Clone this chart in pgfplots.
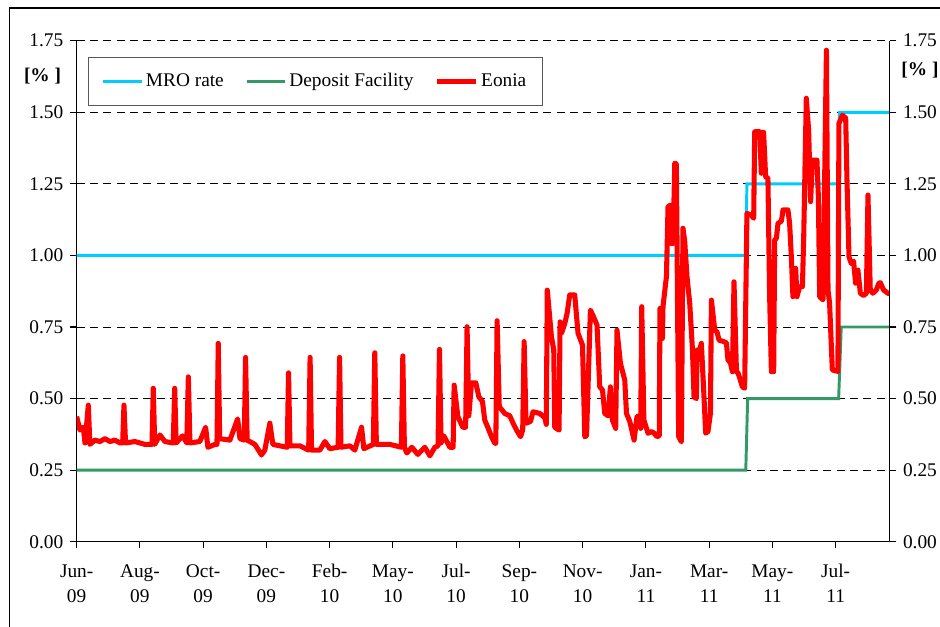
\documentclass[border=0pt]{standalone}
\usepackage{pgfplots}
\pgfplotsset{compat=1.18}
\usepackage{pgfplotstable}
\usepackage{fontspec}
\setmainfont{Liberation Serif}

\definecolor{mrocol}{RGB}{0,204,255}
\definecolor{depcol}{RGB}{51,153,102}
\definecolor{eoncol}{RGB}{255,0,0}

% Eonia, x = trading day since start of June 2009
\pgfplotstableread{
d r
0 0.437
2.3 0.39
4.6 0.40
5.8 0.345
8.1 0.477
9.2 0.34
12.7 0.355
16.2 0.35
19.7 0.36
23.2 0.35
26.6 0.355
30.1 0.345
32.0 0.345
32.9 0.477
34.0 0.345
40.5 0.35
47.5 0.34
52.4 0.34
53.3 0.536
54.3 0.34
57.9 0.373
61.4 0.35
67.2 0.345
68.2 0.536
69.2 0.345
73.7 0.37
76.6 0.345
77.7 0.576
78.8 0.345
85.7 0.35
89.7 0.40
91.3 0.33
96.2 0.34
97.6 0.34
98.5 0.693
99.5 0.36
106.6 0.355
112.0 0.429
113.6 0.36
116.6 0.355
117.5 0.644
118.6 0.355
124.0 0.34
128.6 0.303
130.9 0.32
134.4 0.414
136.5 0.34
141.4 0.335
146.5 0.33
147.4 0.59
148.4 0.335
155.3 0.335
161.4 0.32
162.4 0.644
163.4 0.32
169.2 0.32
172.7 0.35
176.1 0.325
181.9 0.33
182.9 0.644
183.9 0.33
190.1 0.335
193.5 0.32
198.2 0.40
199.8 0.325
206.4 0.34
207.4 0.66
208.5 0.34
217.9 0.34
225.9 0.33
226.9 0.649
228.0 0.33
229.7 0.31
233.2 0.33
237.3 0.305
242.2 0.33
245.7 0.30
249.2 0.33
251.4 0.335
252.4 0.672
253.5 0.345
255.4 0.37
259.6 0.33
261.9 0.33
262.6 0.547
265.2 0.437
268.6 0.40
270.6 0.40
271.6 0.751
272.8 0.44
274.7 0.555
277.7 0.555
279.8 0.506
282.3 0.49
283.9 0.425
286.0 0.40
288.6 0.367
290.9 0.344
291.6 0.344
292.5 0.772
294.0 0.472
297.8 0.448
301.3 0.440
303.6 0.414
306.0 0.39
308.8 0.367
310.3 0.39
311.3 0.699
312.6 0.414
315.7 0.42
317.5 0.454
322.2 0.448
325.7 0.433
326.7 0.41
327.4 0.879
330.3 0.716
331.9 0.67
332.6 0.40
335.6 0.39
336.3 0.768
337.3 0.728
339.6 0.763
341.2 0.798
343.0 0.862
346.5 0.862
348.8 0.728
351.9 0.687
353.5 0.367
354.7 0.37
357.4 0.809
359.2 0.79
362.0 0.757
363.9 0.541
365.8 0.53
367.4 0.448
369.7 0.44
371.3 0.541
372.7 0.425
375.0 0.396
375.9 0.739
378.3 0.623
381.3 0.565
382.5 0.448
384.8 0.42
387.8 0.355
389.8 0.437
391.7 0.44
392.4 0.396
393.1 0.821
394.6 0.425
397.5 0.379
399.9 0.385
401.5 0.38
403.8 0.367
405.3 0.37
405.8 0.815
407.5 0.71
407.9 0.821
410.3 0.926
411.4 1.17
413.1 1.176
413.3 1.042
414.9 1.042
416.1 1.322
417.2 1.32
418.8 0.367
420.7 0.349
421.8 1.095
423.0 1.05
424.6 0.926
426.5 0.833
428.4 0.67
429.5 0.506
431.1 0.50
431.6 0.67
433.0 0.665
434.6 0.693
436.2 0.53
437.6 0.379
439.2 0.385
440.9 0.448
441.6 0.844
443.9 0.739
445.5 0.733
446.9 0.704
449.6 0.70
452.0 0.695
453.1 0.635
454.8 0.625
456.2 0.594
457.3 0.908
459.0 0.594
460.1 0.59
461.7 0.565
463.1 0.541
464.7 0.536
466.3 1.147
469.4 1.14
471.0 1.13
471.7 1.432
475.2 1.432
476.3 1.287
477.0 1.43
477.9 1.43
479.3 1.275
480.9 1.27
482.1 0.856
483.3 0.594
484.9 0.594
485.6 1.054
486.8 1.06
487.9 1.112
490.3 1.12
491.4 1.159
494.8 1.159
496.0 1.112
497.2 0.995
498.3 0.856
500.2 0.955
501.1 0.856
503.0 0.891
504.9 0.891
505.8 1.065
507.6 1.549
509.2 1.438
510.6 1.188
511.8 1.333
515.0 1.333
516.0 1.205
516.9 0.856
519.2 0.845
521.6 1.717
522.7 0.879
523.8 0.833
525.7 0.60
529.6 0.595
530.3 1.461
532.7 1.49
535.0 1.48
535.9 1.263
537.3 0.995
538.9 0.972
540.5 0.98
541.9 0.903
543.5 0.949
545.2 0.868
547.5 0.86
549.4 0.868
550.5 1.211
552.1 0.879
553.9 0.868
556.3 0.879
558.1 0.903
559.1 0.905
561.4 0.879
564.4 0.868
565.6 0.866
}\eonia

\begin{document}
\fontsize{14.5pt}{18.75pt}\selectfont
\begin{tikzpicture}
\useasboundingbox (0pt,0pt) rectangle (705pt,469.5pt);

\begin{axis}[
    at={(57.5pt,63.2pt)}, anchor=south west,
    scale only axis,
    width=609.75pt, height=375.75pt,
    xmin=0, xmax=565.6,
    ymin=0, ymax=1.75,
    axis x line*=bottom, axis y line*=left,
    axis line style={-, line width=0.8pt, black},
    tick align=outside,
    major tick length=5pt,
    tick style={line width=0.8pt, black},
    xtick={0,44,88,132,176,220,264,308,352,396,440,484,528},
    xticklabels={{Jun-\\09},{Aug-\\09},{Oct-\\09},{Dec-\\09},{Feb-\\10},{May-\\10},{Jul-\\10},{Sep-\\10},{Nov-\\10},{Jan-\\11},{Mar-\\11},{May-\\11},{Jul-\\11}},
    x tick label style={align=center, yshift=-7pt},
    ytick={0,0.25,0.5,0.75,1,1.25,1.5,1.75},
    yticklabel style={/pgf/number format/.cd, fixed, fixed zerofill, precision=2, assume math mode=true},
    ymajorgrids=true,
    grid style={dash pattern=on 6pt off 4pt, black, line width=0.7pt},
    legend columns=3,
    legend image code/.code={\draw[#1] (0pt,0pt) -- (29pt,0pt);},
    legend style={at={(0.0139,0.9675)}, anchor=north west,
        draw=black!65, line width=0.6pt, fill=white,
        inner xsep=10pt, inner ysep=10pt,
        nodes={inner xsep=2pt, inner ysep=2pt},
        /tikz/every even column/.append style={column sep=14pt}},
]
\addplot[mrocol, line width=2.2pt] coordinates {
    (0,1.00) (465.3,1.00) (466.3,1.25) (530.0,1.25) (530.8,1.50) (565.6,1.50)
};
\addlegendentry{MRO rate}
\addplot[depcol, line width=2.2pt] coordinates {
    (0,0.25) (465.5,0.25) (466.8,0.50) (530.1,0.50) (531.9,0.75) (565.6,0.75)
};
\addlegendentry{Deposit Facility}
\addplot[eoncol, line width=3.8pt, line join=round] table[x=d, y=r] {\eonia};
\addlegendentry{Eonia}
\end{axis}

\begin{axis}[
    at={(57.5pt,63.2pt)}, anchor=south west,
    scale only axis,
    width=609.75pt, height=375.75pt,
    xmin=0, xmax=565.6,
    ymin=0, ymax=1.75,
    axis x line=none, axis y line*=right,
    axis line style={-, line width=0.8pt, black},
    tick align=outside,
    major tick length=5pt,
    tick style={line width=0.8pt, black},
    ytick={0,0.25,0.5,0.75,1,1.25,1.5,1.75},
    yticklabel style={/pgf/number format/.cd, fixed, fixed zerofill, precision=2, assume math mode=true},
]
\end{axis}

% outer chart frame
\draw[black, line width=0.9pt] (7.1pt,-5pt) -- (7.1pt,463.5pt) -- (710pt,463.5pt);
\node[font=\bfseries] at (31.9pt,412.5pt) {[\% ]};
\node[font=\bfseries] at (690pt,417pt) {[\% ]};
\end{tikzpicture}
\end{document}
